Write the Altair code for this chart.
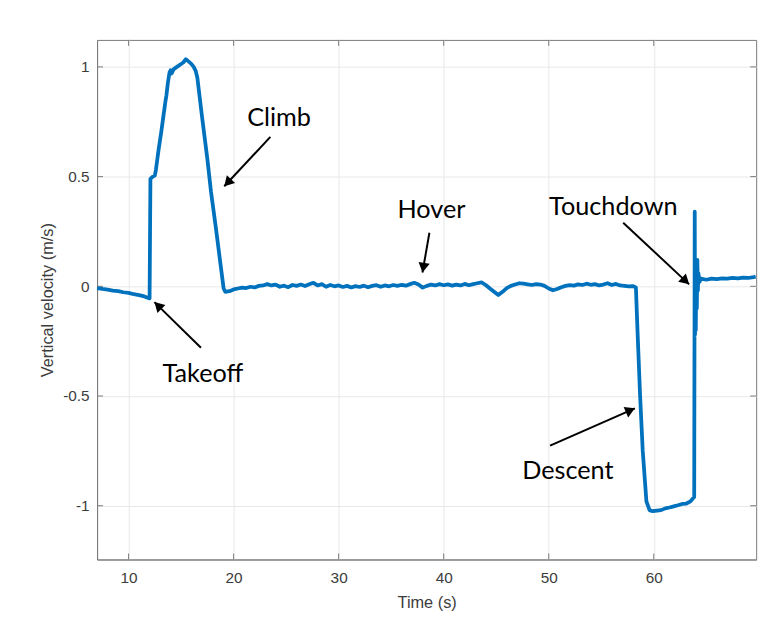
import math
import altair as alt
import pandas as pd

# ---------------- data ----------------
time_pre = [7.0, 7.5, 8.0, 8.5, 9.0, 9.5, 10.0, 10.5, 11.0, 11.5, 12.0]
vel_pre = [-0.008, -0.012, -0.015, -0.02, -0.022, -0.027, -0.03, -0.036, -0.04, -0.046, -0.055]

time_climb = [12.08, 12.3, 12.5, 12.6, 12.85, 13.1, 13.3, 13.5, 13.6, 13.75, 13.9, 14.0, 14.1,
              14.3, 14.6, 14.9, 15.2, 15.45, 15.7, 15.95, 16.2, 16.4, 16.55, 17.0, 17.5, 17.85,
              18.3, 18.7, 19.05, 19.2]
vel_climb = [0.49, 0.5, 0.505, 0.53, 0.62, 0.7, 0.77, 0.84, 0.87, 0.93, 0.975, 0.985, 0.97,
             0.99, 1.0, 1.01, 1.02, 1.035, 1.025, 1.015, 1.0, 0.98, 0.95, 0.77, 0.58, 0.43,
             0.27, 0.12, -0.01, -0.025]

time_hover = [19.6, 20.0, 20.4, 20.8, 21.2, 21.6, 22.0, 22.4, 22.8, 23.2, 23.6, 24.0, 24.4, 24.8,
              25.2, 25.6, 26.0, 26.4, 26.8, 27.2, 27.6, 28.0, 28.4, 28.8, 29.2, 29.6, 30.0, 30.4,
              30.8, 31.2, 31.6, 32.0, 32.4, 32.8, 33.2, 33.6, 34.0, 34.4, 34.8, 35.2, 35.6, 36.0,
              36.4, 36.8, 37.2, 37.6, 38.0, 38.4, 38.8, 39.2, 39.6, 40.0, 40.4, 40.8, 41.2, 41.6,
              42.0, 42.4, 42.8, 43.2, 43.6, 44.0, 44.4, 44.8, 45.2, 45.6, 46.0, 46.4, 46.8, 47.2,
              47.6, 48.0, 48.4, 48.8, 49.2, 49.6, 50.0, 50.4, 50.8, 51.2, 51.6, 52.0, 52.4, 52.8,
              53.2, 53.6, 54.0, 54.4, 54.8, 55.2, 55.6, 56.0, 56.4, 56.8, 57.2, 57.6, 58.0, 58.3]
vel_hover = [-0.022, -0.014, -0.010, -0.006, -0.008, -0.002, -0.005, 0.002, 0.004, 0.010, 0.004,
             0.008, -0.002, 0.003, -0.004, 0.006, 0.002, 0.008, 0.001, 0.009, 0.016, 0.004, 0.010,
             -0.002, 0.006, 0.0, 0.004, -0.003, 0.002, -0.005, 0.001, -0.003, 0.003, -0.004, 0.002,
             0.005, -0.002, 0.004, 0.0, 0.006, 0.002, 0.007, 0.003, 0.010, 0.016, 0.008, -0.006,
             0.002, 0.008, 0.004, 0.010, 0.005, 0.009, 0.003, 0.008, 0.004, 0.011, 0.005, 0.010,
             0.014, 0.018, 0.006, -0.010, -0.025, -0.040, -0.025, -0.008, 0.002, 0.008, 0.014,
             0.012, 0.009, 0.006, 0.010, 0.008, 0.002, -0.010, -0.018, -0.012, -0.004, 0.002,
             0.005, 0.003, 0.009, 0.006, 0.012, 0.007, 0.010, 0.004, 0.008, 0.014, 0.006, 0.011,
             0.004, 0.002, 0.000, 0.001, -0.005]

time_descent = [58.45, 58.7, 58.95, 59.3, 59.6, 59.9, 60.3, 60.7, 61.1, 61.5, 61.9, 62.3, 62.7,
                63.1, 63.5, 63.7, 63.85]
vel_descent = [-0.2, -0.5, -0.75, -0.98, -1.02, -1.025, -1.022, -1.02, -1.012, -1.008, -1.003,
               -0.998, -0.992, -0.99, -0.98, -0.968, -0.96]

time_touch = [63.9, 63.93, 63.97, 64.0, 64.05, 64.1, 64.15, 64.2, 64.25, 64.35, 64.5, 65.0, 65.5,
              66.0, 66.5, 67.0, 67.5, 68.0, 68.5, 69.0, 69.5, 69.7]
vel_touch = [0.34, -0.22, 0.12, -0.2, 0.1, -0.1, 0.12, -0.02, 0.06, 0.02, 0.035, 0.03, 0.035,
             0.033, 0.036, 0.035, 0.038, 0.036, 0.04, 0.038, 0.042, 0.044]

x_ticks = [10, 20, 30, 40, 50, 60]
y_ticks = [-1, -0.5, 0, 0.5, 1]

labels = ["Climb", "Takeoff", "Hover", "Touchdown", "Descent"]
label_t = [24.33, 17.08, 38.83, 56.15, 51.82]
label_v = [0.767, -0.401, 0.347, 0.361, -0.843]
arrow_t0 = [23.5, 16.89, 38.64, 57.09, 50.13]
arrow_v0 = [0.681, -0.28, 0.244, 0.29, -0.726]
arrow_t1 = [19.11, 12.46, 37.98, 63.37, 58.2]
arrow_v1 = [0.456, -0.072, 0.063, 0.009, -0.556]

# ---------------- layout ----------------
X_MIN, X_MAX = 7.0, 69.75
Y_MIN, Y_MAX = -1.245, 1.123
W, H = 666, 525
AX = "#7a7a7a"
TXT = "#3c3c3c"
FONT = "Liberation Sans"

series = pd.DataFrame({
    "t": time_pre + time_climb + time_hover + time_descent + time_touch,
    "v": vel_pre + vel_climb + vel_hover + vel_descent + vel_touch,
})

xs = alt.Scale(domain=[X_MIN, X_MAX], nice=False, zero=False)
ys = alt.Scale(domain=[Y_MIN, Y_MAX], nice=False, zero=False)

x_axis = alt.Axis(values=x_ticks, title="Time (s)", grid=True, gridColor="#e8e8e8",
                  ticks=False, domainColor=AX, labelFont=FONT, labelFontSize=15.5,
                  labelColor=TXT, labelPadding=11, labelExpr="'' + datum.value",
                  titleFont=FONT, titleFontSize=16.5, titleFontWeight="normal",
                  titleColor=TXT, titlePadding=9)
y_axis = alt.Axis(values=y_ticks, title="Vertical velocity (m/s)", grid=True,
                  gridColor="#e8e8e8", ticks=False, domainColor=AX, labelFont=FONT,
                  labelFontSize=15.5, labelColor=TXT, labelPadding=8,
                  labelExpr="'' + datum.value", titleFont=FONT, titleFontSize=16.5,
                  titleFontWeight="normal", titleColor=TXT, titlePadding=7)

line = alt.Chart(series).mark_line(color="#0072BD", strokeWidth=3.8, strokeJoin="round").encode(
    x=alt.X("t:Q", scale=xs, axis=x_axis),
    y=alt.Y("v:Q", scale=ys, axis=y_axis),
    order="t:Q",
)

# arrowheads
sx = W / (X_MAX - X_MIN)
sy = H / (Y_MAX - Y_MIN)
HEAD = 130
h = math.sqrt(HEAD) / 2 * math.sqrt(3) / 2
head_t, head_v, head_a = [], [], []
for t0, v0, t1, v1 in zip(arrow_t0, arrow_v0, arrow_t1, arrow_v1):
    dx = (t1 - t0) * sx
    dy = -(v1 - v0) * sy
    L = math.hypot(dx, dy)
    ux, uy = dx / L, dy / L
    head_t.append(t1 - h * ux / sx)
    head_v.append(v1 + h * uy / sy)
    head_a.append(math.degrees(math.atan2(dx, -dy)) % 360)

arrows_df = pd.DataFrame({"t": arrow_t0, "v": arrow_v0, "t1": arrow_t1, "v1": arrow_v1})
heads_df = pd.DataFrame({"t": head_t, "v": head_v, "a": head_a})
labels_df = pd.DataFrame({"t": label_t, "v": label_v, "label": labels})

arrows = alt.Chart(arrows_df).mark_rule(color="black", strokeWidth=2).encode(
    x=alt.X("t:Q", scale=xs, axis=x_axis), x2="t1:Q",
    y=alt.Y("v:Q", scale=ys, axis=y_axis), y2="v1:Q",
)
heads = alt.Chart(heads_df).mark_point(shape="triangle-up", filled=True, color="black",
                                       size=HEAD, opacity=1).encode(
    x=alt.X("t:Q", scale=xs, axis=x_axis),
    y=alt.Y("v:Q", scale=ys, axis=y_axis),
    angle=alt.Angle("a:Q", scale=None),
)
texts = alt.Chart(labels_df).mark_text(font="Lato", fontSize=25.5, color="black",
                                       align="center", baseline="middle").encode(
    x=alt.X("t:Q", scale=xs, axis=x_axis),
    y=alt.Y("v:Q", scale=ys, axis=y_axis),
    text="label:N",
)

# inward ticks on all four sides (MATLAB box style)
xt_df = pd.DataFrame({"t": x_ticks})
yt_df = pd.DataFrame({"v": y_ticks})
xt_bot = alt.Chart(xt_df).mark_rule(color=AX, strokeWidth=1).encode(
    x=alt.X("t:Q", scale=xs, axis=x_axis), y=alt.value(H), y2=alt.value(H - 6))
xt_top = alt.Chart(xt_df).mark_rule(color=AX, strokeWidth=1).encode(
    x=alt.X("t:Q", scale=xs, axis=x_axis), y=alt.value(0), y2=alt.value(6))
yt_left = alt.Chart(yt_df).mark_rule(color=AX, strokeWidth=1).encode(
    y=alt.Y("v:Q", scale=ys, axis=y_axis), x=alt.value(0), x2=alt.value(6))
yt_right = alt.Chart(yt_df).mark_rule(color=AX, strokeWidth=1).encode(
    y=alt.Y("v:Q", scale=ys, axis=y_axis), x=alt.value(W), x2=alt.value(W - 6))

chart = alt.layer(xt_bot, xt_top, yt_left, yt_right, line, arrows, heads, texts).properties(
    width=W, height=H,
    padding={"left": 90, "top": 29, "right": 17, "bottom": 69},
    autosize=alt.AutoSizeParams(type="none"),
    background="white",
).configure_view(stroke=AX, strokeWidth=1)

chart.save("out.html", embed_options={"renderer": "svg", "actions": False})
